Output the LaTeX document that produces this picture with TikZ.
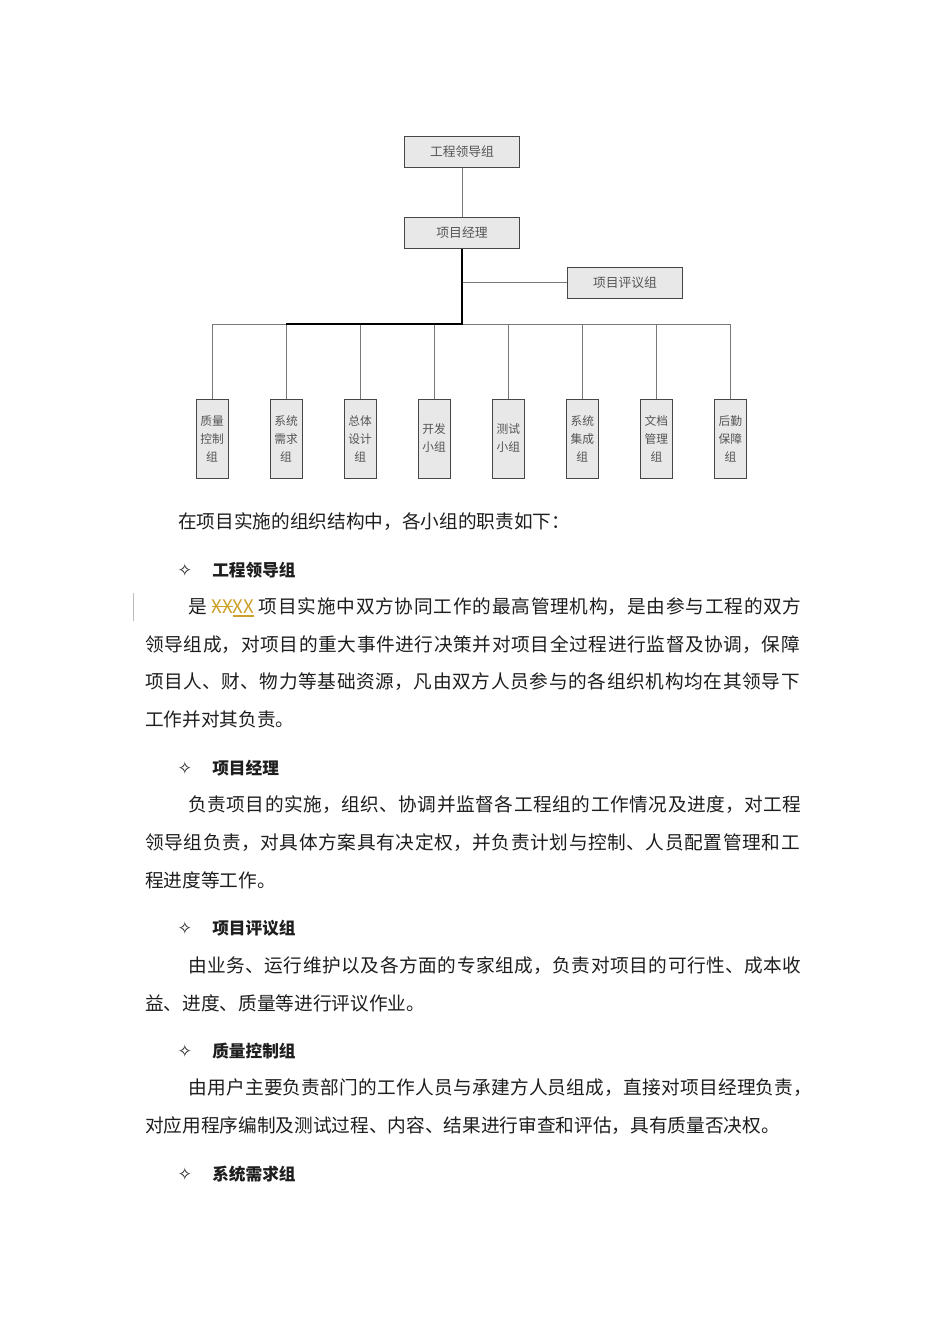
\documentclass[tikz,border=0pt]{standalone}
\usepackage{fontspec}
\setmainfont{Noto Sans CJK SC}
\newfontfamily\symfont{DejaVu Sans}
\XeTeXlinebreaklocale "zh"
\XeTeXlinebreakskip=0pt plus 3pt
\usetikzlibrary{positioning}
\definecolor{boxgray}{RGB}{232,232,232}
\definecolor{edgegray}{RGB}{70,70,70}
\definecolor{linegray}{RGB}{120,120,120}
\definecolor{labelgray}{RGB}{85,85,85}
\definecolor{bodyblack}{RGB}{30,30,30}
\definecolor{markgold}{RGB}{205,160,40}
\newcommand{\bodyfont}{\fontsize{14}{18}\selectfont\parindent=0pt\parfillskip=0pt\relax}
\newcommand{\delmark}[1]{\setbox0\hbox{#1}\rlap{\rule[0.32em]{\wd0}{0.07em}}\box0}
\newcommand{\insmark}[1]{\setbox0\hbox{#1}\rlap{\rule[-0.18em]{\wd0}{0.07em}}\box0}

\begin{document}
\begin{tikzpicture}[
    x=0.75pt, y=-0.75pt,
    node distance=31.15pt,
    box/.style={draw=edgegray, fill=boxgray, minimum width=86.25pt, minimum height=23pt, inner sep=0pt, text=labelgray, font=\fontsize{9.6}{11}\selectfont},
    tallbox/.style={draw=edgegray, fill=boxgray, minimum width=24pt, minimum height=59.25pt, inner sep=0pt, align=center, text=labelgray, font=\fontsize{8.8}{13.5}\selectfont},
    link/.style={draw=linegray, line width=0.75pt},
    trunk/.style={draw=black, line width=1.2pt},
    plain/.style={anchor=west, inner sep=0pt, text=bodyblack, font=\bodyfont},
    jline/.style={anchor=west, inner sep=0pt, text=bodyblack, text width=#1, align=justify, font=\bodyfont},
    bullet/.style={inner sep=0pt, text=bodyblack, font=\symfont\fontsize{13}{14}\selectfont},
    head/.style={anchor=west, inner sep=0pt, text=bodyblack, font=\fontsize{12.5}{15}\selectfont\bfseries}
]
    \useasboundingbox[fill=white] (0,0) rectangle (950,1344);

    % chart
    \node[box] (lead) at (462,152) {工程领导组};
    \node[box] (pm) at (462,233) {项目经理};
    \node[box] (rev) at (625,283) {项目评议组};

    \node[tallbox] (g1) at (212,438.5) {质量\\控制\\组};
    \node[tallbox, right=of g1] (g2) {系统\\需求\\组};
    \node[tallbox, right=of g2] (g3) {总体\\设计\\组};
    \node[tallbox, right=of g3] (g4) {开发\\小组};
    \node[tallbox, right=of g4] (g5) {测试\\小组};
    \node[tallbox, right=of g5] (g6) {系统\\集成\\组};
    \node[tallbox, right=of g6] (g7) {文档\\管理\\组};
    \node[tallbox, right=of g7] (g8) {后勤\\保障\\组};

    \coordinate (hub) at (462,324);

    \draw[link] (lead) -- (pm);
    \draw[link] (rev.west -| hub) -- (rev.west);
    \draw[link] (g1.north) |- (hub -| g8.north) -- (g8.north);
    \draw[link] (g2.north) -- (g2.north |- hub);
    \draw[link] (g3.north) -- (g3.north |- hub);
    \draw[link] (g4.north) -- (g4.north |- hub);
    \draw[link] (g5.north) -- (g5.north |- hub);
    \draw[link] (g6.north) -- (g6.north |- hub);
    \draw[link] (g7.north) -- (g7.north |- hub);
    \draw[trunk] (pm.south) -- (hub) -- (hub -| g2.north);

    % text
    \node[plain] (intro) at (178,522) {在项目实施的组织结构中，各小组的职责如下：};

    \node[bullet] (b1) at (185,570) {✧};
    \node[head] (h1) at (212,570) {工程领导组};
    \draw[draw=linegray!50, line width=0.75pt] (133,593) -- (133,621);
    \node[jline=460pt] (p1a) at (188,607) {是 {\color{markgold}\delmark{XX}\insmark{XX}} 项目实施中双方协同工作的最高管理机构，是由参与工程的双方};
    \node[jline=491pt] (p1b) at (145,645) {领导组成，对项目的重大事件进行决策并对项目全过程进行监督及协调，保障};
    \node[jline=491pt] (p1c) at (145,682) {项目人、财、物力等基础资源，凡由双方人员参与的各组织机构均在其领导下};
    \node[plain] (p1d) at (145,719) {工作并对其负责。};

    \node[bullet] (b2) at (185,768) {✧};
    \node[head] (h2) at (212,768) {项目经理};
    \node[jline=460pt] (p2a) at (188,805) {负责项目的实施，组织、协调并监督各工程组的工作情况及进度，对工程};
    \node[jline=491pt] (p2b) at (145,843) {领导组负责，对具体方案具有决定权，并负责计划与控制、人员配置管理和工};
    \node[plain] (p2c) at (145,880) {程进度等工作。};

    \node[bullet] (b3) at (185,928) {✧};
    \node[head] (h3) at (212,928) {项目评议组};
    \node[jline=460pt] (p3a) at (188,966) {由业务、运行维护以及各方面的专家组成，负责对项目的可行性、成本收};
    \node[plain] (p3b) at (145,1003) {益、进度、质量等进行评议作业。};

    \node[bullet] (b4) at (185,1051) {✧};
    \node[head] (h4) at (212,1051) {质量控制组};
    \node[jline=468pt] (p4a) at (188,1088) {由用户主要负责部门的工作人员与承建方人员组成，直接对项目经理负责，};
    \node[plain] (p4b) at (145,1126) {对应用程序编制及测试过程、内容、结果进行审查和评估，具有质量否决权。};

    \node[bullet] (b5) at (185,1174) {✧};
    \node[head] (h5) at (212,1174) {系统需求组};
\end{tikzpicture}
\end{document}
